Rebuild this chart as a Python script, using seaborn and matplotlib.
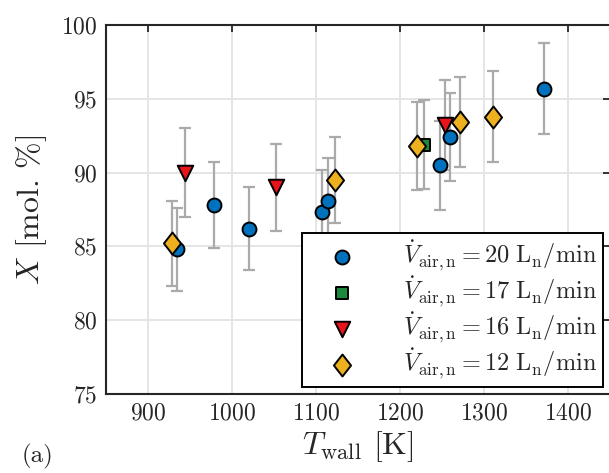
import seaborn as sns
import matplotlib.pyplot as plt
import pandas as pd
from matplotlib.path import Path

# data
t_20 = [934, 978, 1020, 1107, 1114, 1247, 1259, 1371]
x_20 = [84.8, 87.8, 86.2, 87.3, 88.1, 90.5, 92.4, 95.7]
e_20 = [2.8, 2.9, 2.8, 2.9, 2.9, 3.0, 3.0, 3.1]

t_17 = [1229]
x_17 = [91.9]
e_17 = [3.0]

t_16 = [944, 1052, 1254]
x_16 = [90.0, 89.0, 93.2]
e_16 = [3.0, 2.95, 3.05]

t_12 = [929, 1123, 1220, 1271, 1311]
x_12 = [85.2, 89.5, 91.8, 93.4, 93.8]
e_12 = [2.9, 2.9, 3.0, 3.05, 3.1]

rows = []
for flow, t, x, e in [(20, t_20, x_20, e_20), (17, t_17, x_17, e_17),
                      (16, t_16, x_16, e_16), (12, t_12, x_12, e_12)]:
    for a, b, c in zip(t, x, e):
        rows.append({'flow': flow, 'T': a, 'X': b, 'err': c})
df = pd.DataFrame(rows)

sns.set_style('white')
plt.rcParams['font.family'] = ['cmr10', 'DejaVu Serif']
plt.rcParams['mathtext.fontset'] = 'cm'
plt.rcParams['axes.formatter.use_mathtext'] = True

fig = plt.figure(figsize=(6.09, 4.73), dpi=100)
ax = fig.add_axes([0.174, 0.167, 0.828, 0.780])

# error bars under the markers
ax.errorbar(df['T'], df['X'], yerr=df['err'], fmt='none', ecolor='#aaaaaa',
            elinewidth=1.6, capsize=4, capthick=1.6, zorder=2)

# matlab-like diamond, a bit wider than 'd'
diamond = Path([(0, 1), (0.78, 0), (0, -1), (-0.78, 0), (0, 1)],
               [Path.MOVETO, Path.LINETO, Path.LINETO, Path.LINETO, Path.CLOSEPOLY])

style = {
    20: ('o', '#0072BD', 100),
    17: ('s', '#1B8A3C', 75),
    16: ('v', '#E8141B', 125),
    12: (diamond, '#EDB120', 250),
}
label = r'$\dot{V}_{\mathrm{air,n}} = %d\ \mathrm{L_n/min}$'
draw_order = [16, 17, 20, 12]
for flow in draw_order:
    m, c, s = style[flow]
    sub = df[df['flow'] == flow]
    sns.scatterplot(data=sub, x='T', y='X', marker=m, color=c, s=s,
                    edgecolor='black', linewidth=1.4, zorder=3, ax=ax,
                    label=label % flow)

h, l = ax.get_legend_handles_labels()
order = [l.index(label % f) for f in [20, 17, 16, 12]]
leg = ax.legend([h[i] for i in order], [l[i] for i in order], loc='lower right',
                fontsize=17.5, frameon=True, fancybox=False, edgecolor='black',
                framealpha=1, borderaxespad=0.3, handletextpad=1.1,
                labelspacing=0.05, borderpad=0.25, handlelength=2.8)
leg.get_frame().set_linewidth(1.4)

ax.set_xlim(850, 1450)
ax.set_ylim(75, 100)
ax.set_xticks([900, 1000, 1100, 1200, 1300, 1400])
ax.set_yticks([75, 80, 85, 90, 95, 100])
ax.grid(True, color='#e3e3e3', linewidth=1.3)
ax.set_axisbelow(True)
for sp in ax.spines.values():
    sp.set_color('#262626')
    sp.set_linewidth(1.5)
ax.tick_params(direction='in', top=True, right=True, length=5, width=1.3,
               labelsize=17, colors='#262626', pad=6)

ax.set_xlabel(r'$T_{\mathrm{wall}}$ [K]', fontsize=23, labelpad=3)
ax.set_ylabel(r'$X$ [mol. %]', fontsize=23, labelpad=9)
fig.text(0.035, 0.022, '(a)', fontsize=18, color='#262626')

fig.savefig('out.png', dpi=100)
